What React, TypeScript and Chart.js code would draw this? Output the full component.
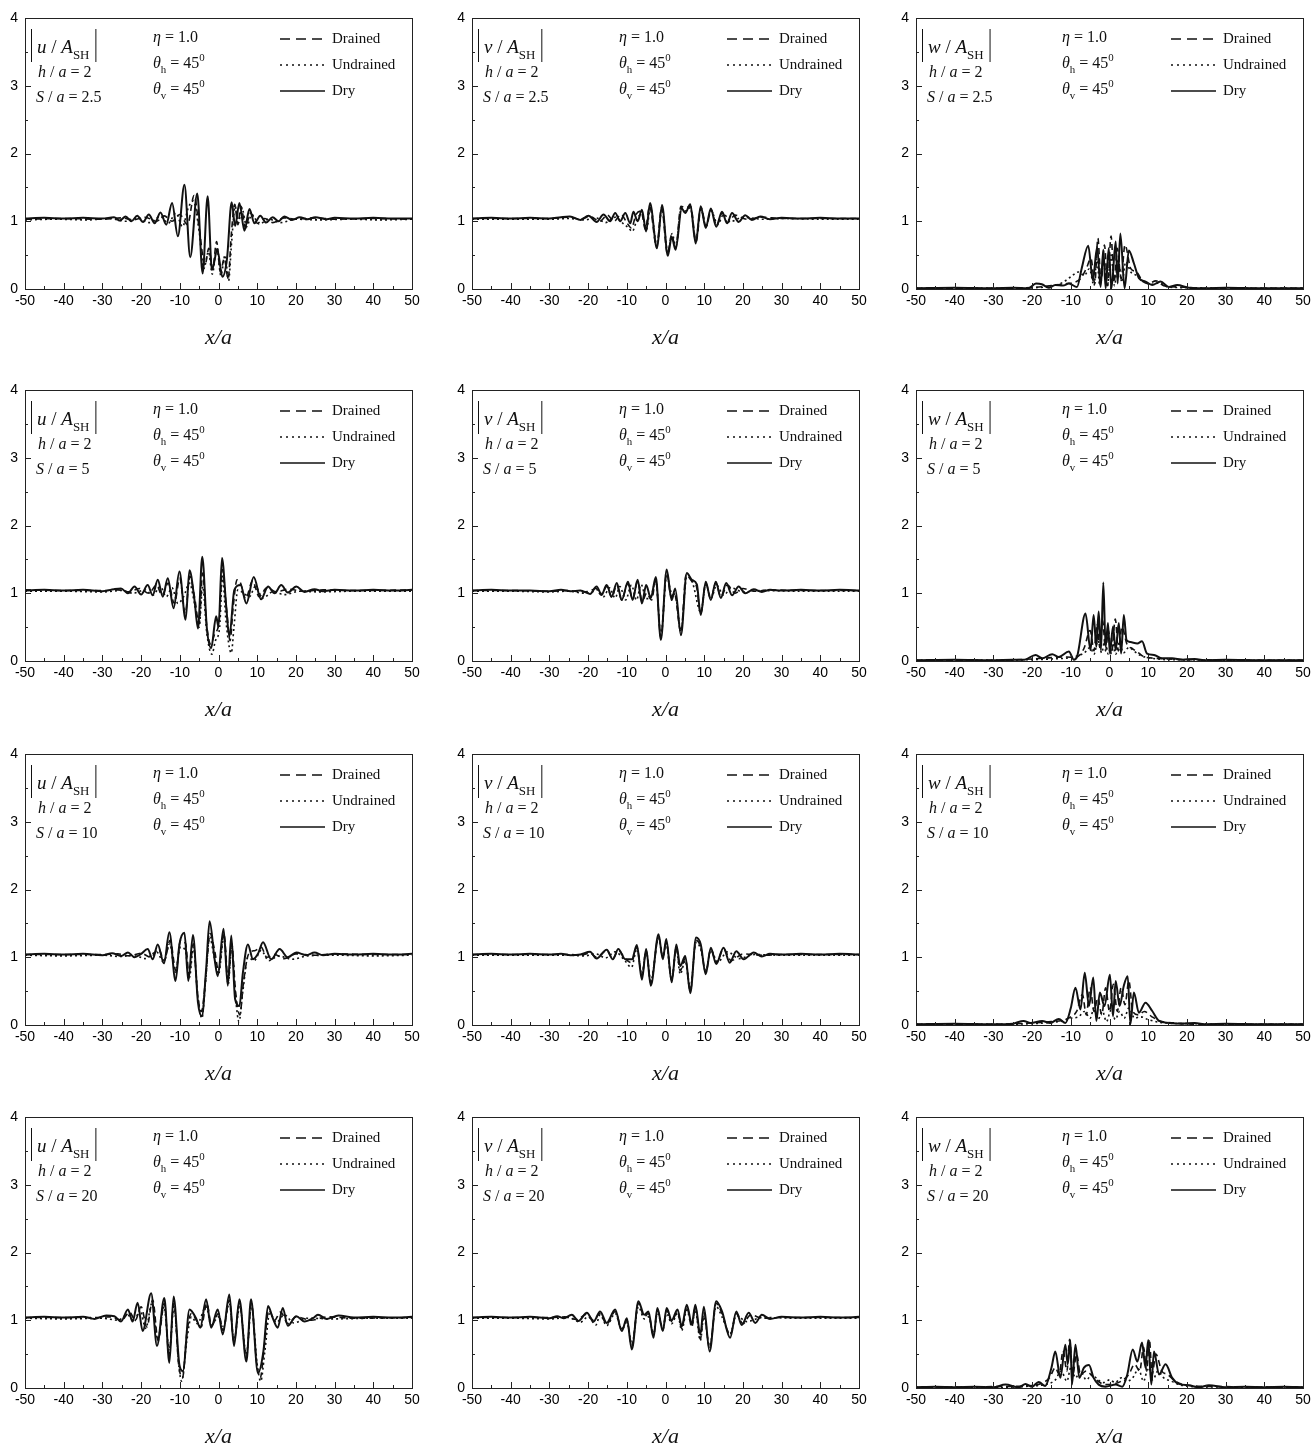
import React, { useEffect, useRef } from "react";
import { Chart, registerables } from "chart.js";
Chart.register(...registerables);

type P = [number, number][];

// ---------- axis definitions ----------
const X_MIN = -50, X_MAX = 50, X_STEP = 10, X_MINOR = 5;
const Y_MIN = 0, Y_MAX = 4, Y_STEP = 1, Y_MINOR = 0.5;
const SERIES_NAMES = ["Drained", "Undrained", "Dry"];
const ETA = "1.0";
const THETA_H = "45";
const THETA_V = "45";
const H_A = "2";
const S_VALUES = ["2.5", "5", "10", "20"];
const COMPONENTS = ["u", "v", "w"];

// ---------- row 1 : S/a = 2.5 ----------
const U25_DRY: P = [[-50,1.04],[-45,1.05],[-40,1.04],[-35,1.05],[-30,1.04],[-27,1.06],[-25.5,1.01],[-24,1.07],[-22.5,1.0],[-21,1.08],[-19.5,0.99],[-18,1.1],[-16.5,0.97],[-15,1.13],[-13.5,0.95],[-12,1.27],[-10.5,0.78],[-8.8,1.54],[-7.3,0.47],[-5.5,1.41],[-4.1,0.23],[-2.8,1.37],[-1.7,0.28],[-0.3,0.58],[1.0,0.18],[2.2,0.45],[3.4,1.28],[4.3,0.93],[5.4,1.27],[6.7,0.86],[8,1.18],[9.3,0.97],[10.8,1.08],[12.3,0.98],[14,1.06],[15.5,1.0],[17,1.07],[19,1.02],[21,1.06],[23,1.03],[25,1.06],[28,1.03],[30,1.05],[35,1.04],[40,1.05],[45,1.04],[50,1.04]];
const U25_DRN: P = [[-50,1.03],[-40,1.04],[-30,1.03],[-25,1.05],[-22,1.02],[-19,1.06],[-16,1.0],[-14,1.08],[-12,1.0],[-10,1.1],[-8,0.95],[-6.3,1.38],[-5,0.9],[-3.5,0.35],[-2.5,0.6],[-1.5,0.3],[-0.5,0.7],[0.5,0.25],[1.5,0.45],[2.5,0.15],[3.3,0.8],[4.2,1.25],[5,0.95],[5.8,1.22],[7,0.9],[8.2,1.12],[10,0.97],[12,1.04],[14,0.98],[17,1.05],[20,1.03],[25,1.05],[30,1.03],[40,1.04],[50,1.03]];
const U25_UND: P = [[-50,1.02],[-42,1.03],[-34,1.02],[-28,1.04],[-24,1.0],[-21,1.05],[-18,0.98],[-15,1.07],[-13,0.97],[-11,1.12],[-9.3,0.92],[-7.8,1.2],[-6.5,1.3],[-5,0.85],[-3.8,0.3],[-2.6,0.55],[-1.6,0.22],[-0.4,0.62],[0.6,0.2],[1.7,0.5],[2.6,0.12],[3.4,0.7],[4.3,1.22],[5.2,0.98],[6,1.2],[7.3,0.92],[8.6,1.1],[10.5,0.96],[13,1.03],[16,0.98],[20,1.03],[26,1.02],[34,1.03],[42,1.02],[50,1.03]];

const V25_DRY: P = [[-50,1.04],[-45,1.05],[-40,1.04],[-35,1.05],[-30,1.04],[-27,1.06],[-24.7,1.07],[-22,1.02],[-19.9,1.08],[-17.8,0.99],[-16,1.1],[-14.3,1.0],[-13,1.12],[-11.7,1.0],[-10.4,1.12],[-9.1,0.97],[-8.3,1.14],[-7.2,1.0],[-6.1,1.17],[-5,0.85],[-4,1.27],[-2.2,0.6],[-0.9,1.24],[0.6,0.49],[1.6,0.77],[2.6,0.58],[4.2,1.19],[5.1,1.12],[6.4,1.25],[7.8,0.67],[9.1,1.22],[10.4,0.9],[11.7,1.19],[13.1,0.92],[14.6,1.14],[15.9,0.97],[17.2,1.12],[18.9,0.99],[20.6,1.09],[22.3,1.02],[24.5,1.07],[27,1.03],[30,1.05],[35,1.04],[40,1.05],[45,1.04],[50,1.04]];
const V25_DRN: P = [[-50,1.04],[-40,1.04],[-30,1.04],[-25,1.06],[-22,1.03],[-19.5,1.07],[-17,1.0],[-15,1.09],[-13.3,1.0],[-11.5,1.1],[-10,0.98],[-8.8,0.9],[-7.6,1.1],[-6.3,1.15],[-5.2,0.88],[-4.1,1.22],[-2.3,0.62],[-1,1.2],[0.5,0.52],[1.6,0.8],[2.6,0.6],[4,1.22],[5.3,1.2],[6.5,1.22],[7.9,0.7],[9.2,1.2],[10.5,0.92],[11.8,1.17],[13.2,0.94],[14.7,1.12],[16,0.98],[18,1.09],[21,1.03],[25,1.06],[30,1.04],[40,1.04],[50,1.04]];
const V25_UND: P = [[-50,1.03],[-40,1.03],[-30,1.03],[-25,1.04],[-21,1.02],[-18,1.05],[-15.5,0.98],[-13,1.06],[-11,0.97],[-9.5,0.9],[-8.6,0.85],[-7.2,1.05],[-6,1.1],[-4.9,0.88],[-3.9,1.2],[-2.2,0.64],[-0.9,1.18],[0.6,0.54],[1.7,0.82],[2.7,0.62],[4.1,1.2],[5,1.15],[6.4,1.2],[7.8,0.72],[9.1,1.18],[10.5,0.93],[11.8,1.15],[13.5,0.95],[15,1.1],[17,1.0],[20,1.06],[25,1.03],[30,1.04],[40,1.03],[50,1.03]];

const W25_DRY: P = [[-50,0.01],[-40,0.02],[-30,0.01],[-25,0.02],[-21,0.01],[-19,0.08],[-17.5,0.07],[-15.7,0.02],[-14,0.06],[-12,0.05],[-10.5,0.08],[-8.4,0.03],[-7.2,0.3],[-5.5,0.64],[-4.3,0.13],[-3.2,0.62],[-2.3,0.03],[-1.6,0.58],[-1,0.01],[-0.2,0.6],[0.5,0.01],[1.6,0.7],[2.1,0.08],[2.8,0.82],[3.9,0.01],[5,0.57],[6.3,0.38],[7.6,0.16],[9.3,0.11],[11,0.06],[13.2,0.11],[15.3,0.03],[17.5,0.06],[20.5,0.02],[25,0.01],[30,0.02],[40,0.01],[50,0.01]];
const W25_DRN: P = [[-50,0.01],[-30,0.01],[-20,0.02],[-15,0.05],[-11,0.08],[-9,0.1],[-7.5,0.15],[-6,0.3],[-4.8,0.45],[-3.8,0.08],[-3,0.75],[-2.2,0.1],[-1.3,0.65],[-0.5,0.05],[0.4,0.78],[1.2,0.1],[2,0.6],[3,0.15],[4,0.65],[5.5,0.3],[7,0.25],[8.5,0.12],[10,0.08],[12,0.12],[14,0.05],[18,0.03],[25,0.01],[50,0.01]];
const W25_UND: P = [[-50,0.01],[-30,0.01],[-20,0.02],[-15,0.04],[-12,0.1],[-10,0.18],[-8,0.25],[-6.5,0.2],[-5.2,0.3],[-4,0.05],[-3.3,0.45],[-2.5,0.05],[-1.5,0.4],[-0.6,0.03],[0.4,0.5],[1.3,0.05],[2.2,0.45],[3.2,0.1],[4.2,0.4],[5.5,0.25],[7,0.2],[9,0.1],[11,0.07],[13,0.09],[15,0.03],[20,0.02],[30,0.01],[50,0.01]];

// ---------- row 2 : S/a = 5 ----------
const U5_DRY: P = [[-50,1.04],[-45,1.05],[-40,1.04],[-35,1.05],[-30,1.03],[-27,1.06],[-25.2,1.07],[-23.4,1.0],[-21.7,1.1],[-20,0.98],[-18.3,1.12],[-17,0.97],[-15.7,1.2],[-14.4,0.95],[-13.1,1.22],[-11.6,0.78],[-10.1,1.32],[-8.5,0.61],[-7.5,1.34],[-6.2,0.9],[-5.3,0.48],[-4.2,1.54],[-3,0.48],[-1.9,0.19],[-0.6,0.66],[0,0.5],[0.9,1.52],[2,0.8],[2.8,0.36],[4.1,1.05],[5.7,1.12],[7.2,0.85],[9.1,1.24],[11,0.91],[12.8,1.1],[14.5,1.0],[16.2,1.12],[17.9,1.01],[20.1,1.1],[22.2,1.02],[24.8,1.06],[27,1.03],[30,1.05],[35,1.04],[40,1.05],[45,1.04],[50,1.05]];
const U5_DRN: P = [[-50,1.05],[-40,1.04],[-30,1.04],[-26,1.05],[-23,1.02],[-20.5,1.07],[-18,1.0],[-16,1.12],[-14.6,0.97],[-13,1.15],[-11.4,0.85],[-10,1.22],[-8.6,0.7],[-7.4,1.25],[-6.2,0.95],[-5,0.55],[-4.1,1.3],[-3.1,0.55],[-2,0.25],[-1,0.4],[0.2,0.6],[1,1.35],[2.1,0.75],[3,0.3],[3.8,0.8],[4.8,1.2],[5.7,1.15],[7,0.92],[8.8,1.18],[10.5,0.95],[12.5,1.08],[15,1.02],[18,1.06],[22,1.03],[27,1.05],[35,1.04],[50,1.05]];
const U5_UND: P = [[-50,1.03],[-40,1.03],[-30,1.02],[-25,1.04],[-22,1.0],[-19,1.05],[-17,0.97],[-15,1.1],[-13.5,0.95],[-12,1.08],[-10.5,0.85],[-9,0.95],[-7.5,1.15],[-6.2,0.85],[-5,0.5],[-4.1,1.1],[-3,0.4],[-1.7,0.1],[-0.8,0.3],[0.3,0.5],[1,1.25],[2,0.55],[3.3,0.12],[4,0.5],[5,1.05],[6.5,1.0],[8,0.95],[9.5,1.1],[11.5,0.93],[14,1.02],[17,0.98],[21,1.03],[26,1.02],[35,1.03],[50,1.03]];

const V5_DRY: P = [[-50,1.04],[-45,1.05],[-40,1.04],[-35,1.04],[-30,1.03],[-27,1.05],[-24.5,1.03],[-22,1.04],[-19.5,0.99],[-17.8,1.1],[-16.5,0.98],[-15.2,1.12],[-13.9,0.95],[-12.6,1.15],[-11.3,0.9],[-9.7,1.17],[-8.5,0.9],[-7.2,1.2],[-6.1,0.85],[-5,1.12],[-3.8,0.93],[-2.5,1.24],[-1.2,0.31],[0.3,1.35],[1.6,0.9],[2.5,1.07],[4,0.38],[5.5,1.3],[6.8,1.2],[8.1,1.13],[9.1,0.68],[10.4,1.17],[11.7,0.9],[13,1.17],[14.3,0.93],[15.7,1.15],[17.2,0.97],[18.9,1.1],[20.6,1.0],[22.8,1.06],[24.9,1.02],[27,1.05],[30,1.04],[35,1.05],[40,1.04],[45,1.05],[50,1.04]];
const V5_DRN: P = [[-50,1.04],[-40,1.04],[-30,1.03],[-25,1.04],[-22,1.02],[-19.7,1.03],[-18,1.07],[-16.6,0.97],[-15.2,1.1],[-13.9,0.94],[-12.6,1.12],[-11.3,0.9],[-9.8,1.14],[-8.5,0.92],[-7.2,1.17],[-6,0.88],[-4.9,1.0],[-3.6,0.9],[-2.5,1.2],[-1.2,0.35],[0.3,1.3],[1.5,0.95],[2.3,1.0],[4,0.42],[5.3,1.27],[6.8,1.18],[8,1.1],[9.1,0.7],[10.4,1.15],[11.7,0.92],[13,1.15],[14.3,0.95],[16,1.12],[18,1.0],[20,1.07],[23,1.03],[27,1.05],[35,1.04],[50,1.04]];
const V5_UND: P = [[-50,1.03],[-40,1.03],[-30,1.02],[-25,1.03],[-21,1.0],[-19,1.02],[-17.5,1.05],[-16,0.95],[-14.5,1.08],[-13,0.93],[-11.8,1.1],[-10.3,0.9],[-8.8,1.12],[-7.5,0.9],[-6.3,1.13],[-5,0.92],[-3.8,0.95],[-2.5,1.18],[-1.2,0.38],[0.3,1.25],[1.6,1.0],[2.5,0.98],[4,0.45],[5.5,1.25],[7,1.15],[9.1,0.72],[10.4,1.12],[11.8,0.93],[13.2,1.12],[15,0.97],[17,1.08],[20,1.02],[25,1.04],[35,1.03],[50,1.03]];

const W5_DRY: P = [[-50,0.01],[-40,0.02],[-30,0.01],[-25,0.02],[-22,0.02],[-19.1,0.09],[-17.4,0.04],[-14.8,0.1],[-13.1,0.06],[-10.5,0.14],[-9.2,0.02],[-8.4,0.06],[-6.2,0.7],[-4.9,0.16],[-4.1,0.68],[-3.4,0.21],[-2.8,0.73],[-2.2,0.16],[-1.6,1.16],[-1,0.21],[-0.4,0.56],[0.1,0.11],[0.9,0.51],[1.6,0.16],[2.4,0.56],[3,0.11],[3.7,0.68],[4.4,0.31],[5.4,0.28],[7.2,0.26],[8.4,0.29],[9.7,0.11],[11.5,0.09],[13.6,0.04],[16.2,0.04],[18.8,0.02],[22,0.03],[25,0.01],[30,0.02],[40,0.01],[50,0.01]];
const W5_DRN: P = [[-50,0.01],[-30,0.01],[-20,0.03],[-15,0.05],[-11,0.06],[-9,0.05],[-7.5,0.1],[-6.5,0.2],[-5,0.45],[-4,0.15],[-3.2,0.55],[-2.5,0.2],[-1.8,0.6],[-1,0.15],[-0.3,0.45],[0.5,0.1],[1.5,0.62],[2.3,0.15],[3.2,0.5],[4.5,0.25],[6,0.18],[7.5,0.12],[9,0.06],[12,0.04],[20,0.02],[50,0.01]];
const W5_UND: P = [[-50,0.01],[-30,0.01],[-20,0.02],[-15,0.03],[-10,0.05],[-8,0.08],[-6.5,0.12],[-5,0.2],[-4,0.1],[-3,0.3],[-2,0.12],[-1.2,0.32],[-0.3,0.1],[0.6,0.3],[1.6,0.1],[2.5,0.28],[3.6,0.12],[5,0.2],[6.5,0.14],[8,0.08],[10,0.05],[15,0.02],[50,0.01]];

// ---------- row 3 : S/a = 10 ----------
const U10_DRY: P = [[-50,1.04],[-45,1.05],[-40,1.04],[-35,1.05],[-30,1.03],[-27.5,1.06],[-25.2,1.02],[-23.4,1.07],[-21.7,1.0],[-20,1.05],[-18.3,1.12],[-17,0.97],[-15.7,1.19],[-14.1,0.91],[-12.7,1.37],[-11.1,0.65],[-10.1,1.19],[-8.8,1.36],[-7.8,0.65],[-6.6,1.33],[-5.3,0.33],[-4.3,0.13],[-3.2,0.82],[-2.3,1.53],[-1,0.97],[-0.2,0.72],[1.3,1.42],[2.4,0.58],[3.3,1.32],[4.3,0.38],[5.4,0.28],[6.3,0.77],[7.6,1.19],[8.9,0.97],[10.2,1.05],[11.5,1.22],[13.6,0.97],[15.8,1.12],[17.9,1.0],[20.1,1.07],[22.7,1.03],[24.8,1.07],[27,1.03],[30,1.05],[35,1.04],[40,1.05],[45,1.04],[50,1.05]];
const U10_DRN: P = [[-50,1.04],[-40,1.04],[-30,1.04],[-26,1.05],[-23,1.02],[-20,1.06],[-17.5,1.0],[-15.5,1.12],[-14,0.95],[-12.5,1.25],[-11,0.8],[-9.8,1.25],[-8.5,1.2],[-7.6,0.75],[-6.5,1.2],[-5.4,0.45],[-4.4,0.2],[-3.3,0.7],[-2.2,1.35],[-1,1.1],[0,0.8],[1.4,1.35],[2.5,0.65],[3.4,1.2],[4.4,0.5],[5.5,0.15],[6.5,0.65],[7.8,1.05],[9.5,1.1],[11,1.15],[12.5,1.0],[14.5,1.04],[17,0.98],[20,1.05],[25,1.03],[30,1.05],[40,1.04],[50,1.04]];
const U10_UND: P = [[-50,1.03],[-40,1.02],[-30,1.03],[-25,1.01],[-22,1.04],[-19,0.98],[-16,1.08],[-14.2,0.93],[-12.6,1.2],[-11.2,0.78],[-9.8,1.15],[-8.6,1.1],[-7.5,0.7],[-6.5,1.15],[-5.3,0.4],[-4.3,0.1],[-3.4,0.6],[-2.3,1.3],[-1.1,1.0],[0,0.75],[1.4,1.3],[2.5,0.6],[3.4,1.15],[4.5,0.35],[5.3,0.05],[6.3,0.5],[7.6,1.0],[9.2,0.95],[11,1.1],[13,0.95],[15.5,1.02],[19,0.97],[23,1.02],[30,1.03],[40,1.02],[50,1.03]];

const V10_DRY: P = [[-50,1.04],[-45,1.05],[-40,1.04],[-35,1.05],[-30,1.04],[-27,1.05],[-24.5,1.03],[-22,1.04],[-19.5,1.08],[-17.8,0.98],[-15.2,1.11],[-13.6,0.97],[-12.2,1.12],[-10.4,0.97],[-8.7,0.97],[-7.4,1.18],[-6.1,0.67],[-5,1.12],[-3.8,0.58],[-1.8,1.34],[-0.7,0.97],[0.2,1.27],[1.6,0.63],[2.8,1.19],[3.8,0.87],[5.1,1.02],[6.4,0.47],[7.9,1.29],[9.1,1.19],[10.4,0.75],[11.7,1.14],[13.1,0.9],[15,1.14],[16.6,0.92],[18.3,1.09],[20.2,0.97],[22.8,1.07],[24.9,1.01],[27,1.05],[30,1.04],[35,1.05],[40,1.04],[45,1.05],[50,1.04]];
const V10_DRN: P = [[-50,1.04],[-40,1.04],[-30,1.04],[-25,1.04],[-22,1.03],[-19.5,1.06],[-17.8,1.0],[-15.2,1.1],[-13.6,0.98],[-12.2,1.1],[-10.4,0.98],[-8.8,0.92],[-7.4,1.15],[-6.1,0.72],[-5,1.1],[-3.8,0.62],[-1.8,1.3],[-0.7,1.0],[0.2,1.22],[1.6,0.66],[2.8,1.15],[3.8,0.8],[5.1,0.98],[6.4,0.5],[7.9,1.25],[9.1,1.15],[10.4,0.78],[11.7,1.12],[13.1,0.92],[15,1.12],[17,0.95],[20,1.05],[25,1.03],[30,1.04],[50,1.04]];
const V10_UND: P = [[-50,1.03],[-40,1.03],[-30,1.03],[-25,1.03],[-21,1.02],[-18,1.05],[-15.5,0.99],[-13,1.08],[-10.5,0.95],[-8.8,0.85],[-7.4,1.12],[-6.1,0.75],[-5,1.08],[-3.8,0.65],[-1.8,1.28],[-0.7,1.02],[0.2,1.2],[1.6,0.68],[2.8,1.12],[3.8,0.75],[5.1,0.95],[6.4,0.55],[7.9,1.22],[9.1,1.12],[10.4,0.8],[11.7,1.1],[13.5,0.93],[16,1.08],[19,0.98],[23,1.04],[30,1.03],[50,1.03]];

const W10_DRY: P = [[-50,0.01],[-40,0.02],[-30,0.01],[-25,0.02],[-22.2,0.06],[-20.4,0.03],[-17.4,0.06],[-15.3,0.03],[-13.1,0.09],[-11.4,0.03],[-10,0.25],[-8.8,0.55],[-7.5,0.23],[-6.4,0.77],[-5.3,0.28],[-4.2,0.7],[-3.4,0.06],[-2.5,0.48],[-1.3,0.28],[0.1,0.74],[0.9,0.13],[1.6,0.65],[2.6,0.28],[3.7,0.58],[4.7,0.72],[5.4,0.01],[6.3,0.48],[7.6,0.18],[9.3,0.33],[11,0.21],[12.8,0.06],[15.3,0.03],[18.8,0.02],[22,0.03],[25,0.01],[30,0.02],[40,0.01],[50,0.01]];
const W10_DRN: P = [[-50,0.01],[-30,0.01],[-20,0.03],[-15,0.05],[-12,0.07],[-10,0.12],[-8.5,0.2],[-7,0.45],[-6,0.15],[-5,0.55],[-4,0.2],[-3,0.4],[-2,0.15],[-1,0.55],[0,0.2],[1,0.6],[2,0.2],[3,0.55],[4,0.3],[5,0.65],[6,0.2],[7.5,0.15],[9,0.2],[11,0.12],[13,0.06],[17,0.03],[25,0.01],[50,0.01]];
const W10_UND: P = [[-50,0.01],[-30,0.01],[-20,0.02],[-15,0.04],[-12,0.06],[-10,0.1],[-8,0.12],[-6.5,0.2],[-5,0.1],[-4,0.25],[-3,0.08],[-1.8,0.2],[-0.8,0.05],[0.4,0.22],[1.5,0.08],[2.6,0.2],[3.8,0.1],[5,0.25],[6.5,0.1],[8,0.12],[10,0.08],[13,0.04],[20,0.02],[50,0.01]];

// ---------- row 4 : S/a = 20 ----------
const U20_DRY: P = [[-50,1.04],[-45,1.05],[-40,1.04],[-35,1.05],[-32,1.02],[-29,1.07],[-26.9,1.06],[-25.2,0.98],[-23.4,1.16],[-22.2,0.98],[-20.9,1.26],[-19.6,0.84],[-17.4,1.4],[-15.9,0.62],[-14,1.33],[-12.7,0.37],[-11.6,1.35],[-10.1,0.34],[-9.2,0.25],[-7.5,1.16],[-5.8,1.03],[-4.7,0.89],[-3.2,1.31],[-1.9,0.89],[-0.2,1.16],[1.1,0.79],[2.8,1.38],[4,0.62],[5.4,1.31],[7.2,0.39],[8.4,1.31],[10.2,0.22],[11.6,0.54],[12.8,1.21],[14.1,1.02],[15.3,0.89],[16.6,1.18],[17.9,0.92],[20.1,1.06],[22.2,0.98],[24.4,1.03],[25.7,1.08],[28,1.02],[31,1.07],[35,1.04],[40,1.05],[45,1.04],[50,1.05]];
const U20_DRN: P = [[-50,1.04],[-40,1.04],[-32,1.04],[-28,1.05],[-25,1.0],[-23,1.12],[-21.5,1.0],[-20,1.2],[-18.5,0.9],[-17,1.3],[-15.6,0.7],[-14,1.25],[-12.8,0.5],[-11.5,1.25],[-10.3,0.35],[-9.3,0.15],[-8.2,0.8],[-7,1.1],[-5.5,0.98],[-4.5,0.9],[-3,1.25],[-1.8,0.92],[0,1.1],[1.2,0.85],[2.8,1.3],[4,0.68],[5.4,1.25],[7.2,0.45],[8.5,1.25],[9.8,0.4],[10.8,0.15],[11.8,0.6],[13,1.15],[14.5,1.0],[16,1.12],[18,0.95],[20,1.05],[24,1.0],[28,1.05],[35,1.03],[50,1.04]];
const U20_UND: P = [[-50,1.03],[-40,1.02],[-30,1.03],[-26,1.0],[-23.5,1.08],[-21.8,0.98],[-20.3,1.15],[-18.8,0.88],[-17.2,1.25],[-15.7,0.72],[-14.1,1.2],[-12.7,0.55],[-11.5,1.2],[-10.2,0.3],[-9.5,0.1],[-8.3,0.65],[-7,1.05],[-5.5,0.95],[-3.2,1.2],[-1.9,0.93],[0,1.05],[1.2,0.88],[2.8,1.25],[4,0.7],[5.5,1.2],[7.2,0.5],[8.5,1.2],[10,0.35],[10.9,0.1],[12,0.55],[13.2,1.1],[15,0.97],[17,1.08],[19.5,0.96],[23,1.03],[30,1.02],[40,1.03],[50,1.03]];

const V20_DRY: P = [[-50,1.04],[-45,1.05],[-40,1.04],[-35,1.05],[-30,1.03],[-28,1.06],[-26.4,1.03],[-24.2,1.08],[-22.5,0.99],[-20.3,1.11],[-18.6,0.98],[-16.9,1.13],[-15.2,0.96],[-13,1.16],[-11.3,0.84],[-10,1.03],[-8.7,0.57],[-7,1.28],[-5.5,1.08],[-4.4,1.13],[-3.1,0.74],[-2.1,1.18],[-0.7,0.84],[0.3,1.18],[1.6,1.0],[3.1,1.16],[4.2,0.91],[5.5,1.23],[6.8,0.94],[7.7,1.23],[9,0.79],[9.9,1.2],[11.4,0.54],[13.1,1.28],[14.6,1.13],[16.7,0.74],[18.3,1.13],[19.7,0.93],[21.5,1.11],[23.2,0.96],[24.9,1.08],[27,1.02],[30,1.05],[35,1.04],[40,1.05],[45,1.04],[50,1.05]];
const V20_DRN: P = [[-50,1.04],[-40,1.04],[-30,1.04],[-26,1.05],[-23,1.01],[-20.3,1.09],[-18.6,1.0],[-16.9,1.1],[-15.2,0.94],[-13,1.13],[-11.3,0.87],[-10,1.0],[-8.7,0.62],[-7,1.25],[-5.5,1.05],[-4.4,1.1],[-3.1,0.78],[-2.1,1.15],[-0.7,0.86],[0.3,1.15],[1.6,0.98],[3.1,1.13],[4.2,0.88],[5.5,1.2],[6.8,0.9],[7.7,1.2],[9,0.72],[9.9,1.12],[11.4,0.58],[13.1,1.25],[14.6,1.1],[16.7,0.78],[18.3,1.1],[20,0.95],[22,1.08],[25,1.03],[30,1.04],[50,1.04]];
const V20_UND: P = [[-50,1.03],[-40,1.03],[-30,1.02],[-25,1.04],[-22,0.97],[-20,1.05],[-18,0.93],[-16.9,1.08],[-15.2,0.92],[-13,1.1],[-11.3,0.86],[-10,0.97],[-8.7,0.65],[-7,1.2],[-5.5,1.02],[-4.4,1.05],[-3.1,0.8],[-2.1,1.1],[-0.7,0.9],[0.3,1.1],[1.6,0.95],[3.1,1.1],[4.2,0.85],[5.5,1.15],[6.8,0.92],[7.7,1.15],[9,0.7],[9.9,1.05],[11.4,0.62],[13.1,1.2],[14.6,1.05],[16.7,0.8],[18.3,1.07],[21,0.98],[25,1.04],[35,1.03],[50,1.03]];

const W20_DRY: P = [[-50,0.01],[-45,0.02],[-40,0.01],[-35,0.02],[-30,0.01],[-26.9,0.05],[-23.4,0.01],[-21.7,0.06],[-20,0.02],[-18.3,0.09],[-16.6,0.03],[-15,0.3],[-14,0.54],[-12.7,0.15],[-11.4,0.64],[-10.8,0.35],[-10.1,0.7],[-9.7,0.05],[-8.8,0.64],[-7.8,0.15],[-6.6,0.3],[-5.3,0.34],[-4.1,0.15],[-2.8,0.05],[-1,0.02],[1.6,0.05],[3.3,0.02],[4.6,0.2],[6,0.57],[7.2,0.39],[8.4,0.67],[9.3,0.3],[10,0.71],[10.8,0.05],[11.5,0.54],[12.8,0.2],[14.5,0.35],[16.2,0.15],[17.9,0.06],[20.5,0.04],[23.1,0.01],[25.7,0.04],[30,0.01],[35,0.02],[40,0.01],[45,0.02],[50,0.01]];
const W20_DRN: P = [[-50,0.01],[-30,0.02],[-22,0.03],[-18,0.06],[-15.5,0.15],[-14,0.3],[-13,0.2],[-12,0.55],[-11,0.25],[-10.3,0.72],[-9.5,0.2],[-8.5,0.5],[-7.5,0.2],[-6,0.25],[-4.5,0.18],[-3,0.1],[-1,0.05],[1,0.06],[3,0.1],[5,0.2],[6.5,0.35],[7.8,0.25],[8.8,0.6],[9.6,0.25],[10.3,0.72],[11,0.2],[12,0.5],[13.5,0.25],[15,0.2],[17,0.1],[20,0.04],[30,0.02],[50,0.01]];
const W20_UND: P = [[-50,0.01],[-30,0.01],[-20,0.03],[-16,0.06],[-14,0.12],[-12.5,0.25],[-11,0.1],[-10,0.3],[-8.8,0.15],[-7.5,0.25],[-6,0.12],[-4.5,0.2],[-3,0.12],[-1.5,0.08],[0,0.12],[1.5,0.08],[3,0.15],[4.5,0.1],[6,0.15],[7.5,0.28],[8.8,0.1],[10,0.3],[11.2,0.12],[12.5,0.25],[14,0.15],[16,0.1],[18,0.05],[22,0.02],[50,0.01]];

const GRID_DATA: [P, P, P][][] = [
  [[U25_DRN, U25_UND, U25_DRY], [V25_DRN, V25_UND, V25_DRY], [W25_DRN, W25_UND, W25_DRY]],
  [[U5_DRN, U5_UND, U5_DRY], [V5_DRN, V5_UND, V5_DRY], [W5_DRN, W5_UND, W5_DRY]],
  [[U10_DRN, U10_UND, U10_DRY], [V10_DRN, V10_UND, V10_DRY], [W10_DRN, W10_UND, W10_DRY]],
  [[U20_DRN, U20_UND, U20_DRY], [V20_DRN, V20_UND, V20_DRY], [W20_DRN, W20_UND, W20_DRY]],
];

// ---------- layout ----------
const COL_LEFT = [25, 472, 916];
const ROW_TOP = [18, 390, 754, 1117];
const PLOT_W = 387;
const PLOT_H = 271;
const AY_W = 24;
const PAD_T = 8;
const PAD_R = 10;
const AX_H = 62;
const ETA_X = [128, 147, 146];
const INK = "#111";
const SERIF = '"Liberation Serif", "Times New Roman", serif';
const SANS = '"Liberation Sans", Arial, sans-serif';

type Run = { t: string; it?: boolean; sub?: boolean; sup?: boolean };

function drawRuns(ctx: CanvasRenderingContext2D, x: number, y: number, runs: Run[], base: number) {
  let cx = x;
  for (const r of runs) {
    const size = r.sub || r.sup ? base * 0.68 : base;
    ctx.font = `${r.it ? "italic " : ""}${size}px ${SERIF}`;
    const dy = r.sub ? base * 0.32 : r.sup ? -base * 0.42 : 0;
    ctx.fillText(r.t, cx, y + dy);
    cx += ctx.measureText(r.t).width;
  }
  return cx;
}

function Panel({ row, col }: { row: number; col: number }) {
  const ref = useRef<HTMLCanvasElement | null>(null);
  const w = PLOT_W + AY_W + PAD_R;
  const h = PLOT_H + PAD_T + AX_H;
  useEffect(() => {
    const canvas = ref.current;
    if (!canvas) return;
    const [drn, und, dry] = GRID_DATA[row][col];
    const comp = COMPONENTS[col];
    const sVal = S_VALUES[row];
    const annot = {
      id: "annot" + row + col,
      afterDraw(chart: any) {
        const ctx: CanvasRenderingContext2D = chart.ctx;
        const a = chart.chartArea;
        const xs = chart.scales.x;
        const ys = chart.scales.y;
        ctx.save();
        ctx.strokeStyle = "#222";
        ctx.lineWidth = 1;
        ctx.setLineDash([]);
        ctx.strokeRect(Math.round(a.left) + 0.5, Math.round(a.top) + 0.5, Math.round(a.right - a.left), Math.round(a.bottom - a.top));
        // inward ticks
        ctx.beginPath();
        for (let v = X_MIN; v <= X_MAX + 1e-9; v += X_MINOR) {
          const px = Math.round(xs.getPixelForValue(v)) + 0.5;
          const len = Math.abs(v % X_STEP) < 1e-9 ? 6 : 3;
          ctx.moveTo(px, a.bottom);
          ctx.lineTo(px, a.bottom - len);
        }
        for (let v = Y_MIN; v <= Y_MAX + 1e-9; v += Y_MINOR) {
          const py = Math.round(ys.getPixelForValue(v)) + 0.5;
          const len = Math.abs(v % Y_STEP) < 1e-9 ? 6 : 3;
          ctx.moveTo(a.left, py);
          ctx.lineTo(a.left + len, py);
        }
        ctx.stroke();
        // x axis title
        ctx.fillStyle = INK;
        ctx.font = `italic 22px ${SERIF}`;
        ctx.textAlign = "center";
        ctx.textBaseline = "middle";
        ctx.fillText("x/a", (a.left + a.right) / 2, a.bottom + 49);
        ctx.textAlign = "left";
        ctx.textBaseline = "alphabetic";
        const L = a.left, T = a.top;
        // |c / A_SH|
        const bx = L + 6;
        ctx.strokeStyle = INK;
        ctx.lineWidth = 1;
        ctx.beginPath();
        ctx.moveTo(bx + 0.5, T + 11);
        ctx.lineTo(bx + 0.5, T + 44);
        ctx.stroke();
        const endX = drawRuns(ctx, bx + 6, T + 35, [{ t: comp, it: true }, { t: " / " }, { t: "A", it: true }, { t: "SH", sub: true }], 19);
        ctx.beginPath();
        ctx.moveTo(endX + 6.5, T + 11);
        ctx.lineTo(endX + 6.5, T + 44);
        ctx.stroke();
        drawRuns(ctx, L + 13, T + 59, [{ t: "h", it: true }, { t: " / " }, { t: "a", it: true }, { t: " = " + H_A }], 16);
        drawRuns(ctx, L + 11, T + 84, [{ t: "S", it: true }, { t: " / " }, { t: "a", it: true }, { t: " = " + sVal }], 16);
        const ex = L + ETA_X[col];
        drawRuns(ctx, ex, T + 24, [{ t: "η", it: true }, { t: " = " + ETA }], 16);
        drawRuns(ctx, ex, T + 50, [{ t: "θ", it: true }, { t: "h", sub: true }, { t: " = " + THETA_H }, { t: "0", sup: true }], 16);
        drawRuns(ctx, ex, T + 76, [{ t: "θ", it: true }, { t: "v", sub: true }, { t: " = " + THETA_V }, { t: "0", sup: true }], 16);
        // legend
        const dashes = [[10, 6], [2, 4], []];
        const lx = L + 255;
        for (let i = 0; i < 3; i++) {
          const ly = T + 21 + i * 26;
          ctx.beginPath();
          ctx.setLineDash(dashes[i]);
          ctx.lineWidth = 1.7;
          ctx.moveTo(lx, ly);
          ctx.lineTo(lx + 45, ly);
          ctx.stroke();
          ctx.setLineDash([]);
          ctx.font = `15px ${SERIF}`;
          ctx.textBaseline = "middle";
          ctx.fillText(SERIES_NAMES[i], lx + 52, ly);
          ctx.textBaseline = "alphabetic";
        }
        ctx.restore();
      },
    };
    const mk = (d: P, dash: number[], lw: number) => ({
      data: d.map(([x, y]) => ({ x, y })),
      borderColor: INK,
      borderWidth: lw,
      borderDash: dash,
      pointRadius: 0,
      fill: false,
      cubicInterpolationMode: "monotone" as const,
    });
    const chart = new Chart(canvas, {
      type: "line",
      data: {
        datasets: [mk(und, [2, 3], 1.6), mk(drn, [6, 4], 1.6), mk(dry, [], 2)],
      },
      options: {
        animation: false,
        responsive: false,
        layout: { padding: { top: PAD_T, right: PAD_R, left: 0, bottom: 0 } },
        plugins: { legend: { display: false }, tooltip: { enabled: false } },
        scales: {
          x: {
            type: "linear",
            min: X_MIN,
            max: X_MAX,
            ticks: { stepSize: X_STEP, color: "#000", font: { family: SANS, size: 14 }, padding: 4, maxRotation: 0, autoSkip: false },
            grid: { display: false, drawTicks: false },
            border: { display: false },
            afterFit: (s: any) => { s.height = AX_H; s.paddingLeft = 0; s.paddingRight = 0; },
          },
          y: {
            type: "linear",
            min: Y_MIN,
            max: Y_MAX,
            ticks: { stepSize: Y_STEP, color: "#000", font: { family: SANS, size: 14 }, padding: 7 },
            grid: { display: false, drawTicks: false },
            border: { display: false },
            afterFit: (s: any) => { s.width = AY_W; s.paddingTop = 0; s.paddingBottom = 0; },
          },
        },
      } as any,
      plugins: [annot],
    });
    return () => chart.destroy();
  }, [row, col]);
  return (
    <canvas
      ref={ref}
      width={w}
      height={h}
      style={{ position: "absolute", left: COL_LEFT[col] - AY_W, top: ROW_TOP[row] - PAD_T, width: w, height: h }}
    />
  );
}

export default function App() {
  const cells: React.ReactNode[] = [];
  for (let r = 0; r < 4; r++) for (let c = 0; c < 3; c++) cells.push(<Panel key={r + "-" + c} row={r} col={c} />);
  return (
    <div style={{ position: "absolute", left: 0, top: 0, width: 1313, height: 1445, background: "#fff" }}>{cells}</div>
  );
}
